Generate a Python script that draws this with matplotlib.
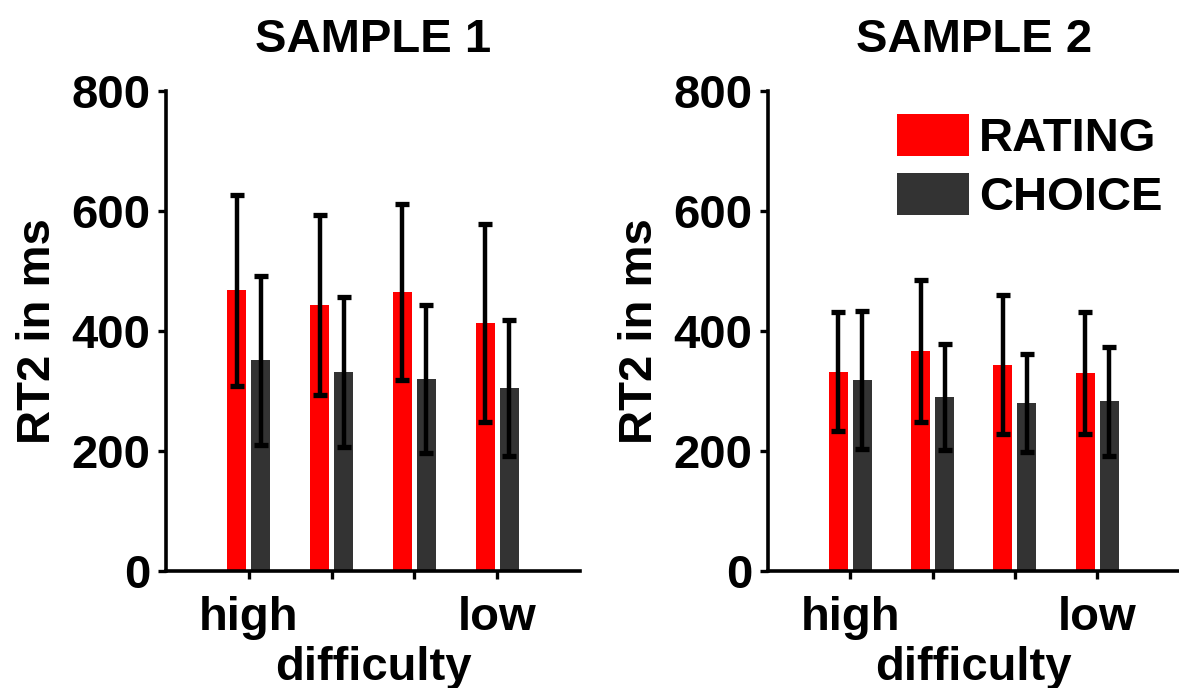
import numpy as np
import matplotlib
matplotlib.use("Agg")
import matplotlib.pyplot as plt

plt.rcParams['font.family'] = ['Liberation Sans', 'DejaVu Sans']
plt.rcParams['font.weight'] = 'bold'

# values (ms)
groups = [1, 2, 3, 4]
group_labels = ['high', '', '', 'low']
titles = ['SAMPLE 1', 'SAMPLE 2']

rating_mean = [[468, 444, 465, 413], [332, 367, 344, 330]]
rating_err = [[159, 150, 146, 165], [99, 118, 116, 102]]
choice_mean = [[351, 331, 320, 305], [318, 290, 280, 283]]
choice_err = [[141, 125, 123, 113], [115, 88, 82, 91]]

red = '#ff0000'
dark = '#333333'
fs = 34

fig = plt.figure(figsize=(11.79, 6.88), dpi=100)
axes = [fig.add_axes([0.1408, 0.170, 0.351, 0.6977]),
        fig.add_axes([0.6514, 0.170, 0.349, 0.6977])]

x = np.array(groups)
w = 0.23
off = 0.145
ekw = dict(elinewidth=3.2, capsize=5, capthick=3.8, ecolor='black')

for i, ax in enumerate(axes):
    ax.bar(x - off, rating_mean[i], w, color=red, label='RATING',
           yerr=rating_err[i], error_kw=ekw, zorder=2)
    ax.bar(x + off, choice_mean[i], w, color=dark, label='CHOICE',
           yerr=choice_err[i], error_kw=ekw, zorder=2)
    ax.set_xlim(0, 5)
    ax.set_ylim(0, 800)
    ax.set_yticks([0, 200, 400, 600, 800])
    ax.set_xticks(groups)
    ax.set_xticklabels(group_labels)
    ax.spines['top'].set_visible(False)
    ax.spines['right'].set_visible(False)
    for s in ['left', 'bottom']:
        ax.spines[s].set_linewidth(2.6)
    ax.tick_params(width=2.4, length=6, labelsize=fs)
    ax.tick_params(axis='y', pad=5)
    ax.tick_params(axis='x', pad=12)
    ax.set_xlabel('difficulty', fontsize=fs, fontweight='bold', labelpad=4)
    ax.set_ylabel('RT2 in ms', fontsize=fs, fontweight='bold', labelpad=8)
    ax.set_title(titles[i], fontsize=fs, fontweight='bold', pad=28)

leg = axes[1].legend(loc='upper right', bbox_to_anchor=(1.004, 0.9925), frameon=False,
                     fontsize=fs, handlelength=1.53, handleheight=1.0,
                     handletextpad=0.2, labelspacing=0.25, borderaxespad=0)

fig.savefig('out.png', dpi=100)
